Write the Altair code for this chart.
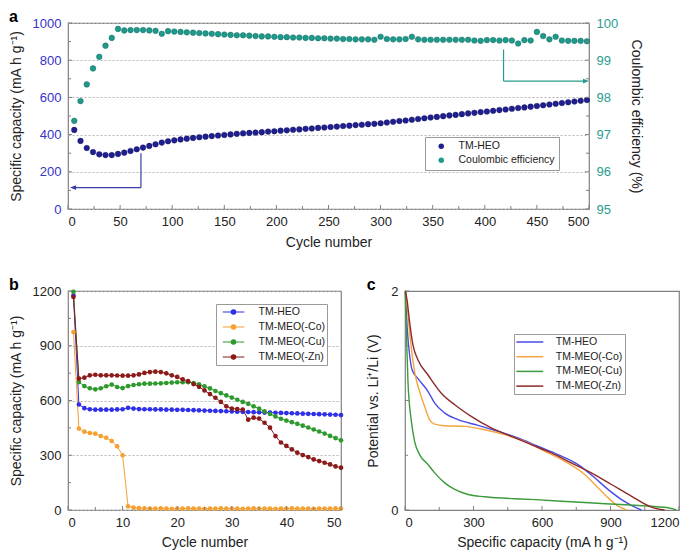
import altair as alt
import pandas as pd

FONT = "Liberation Sans"
FRAME = "#808080"
TXT = "#222222"

# ---------------- panel a data ----------------
a_cycles = list(range(6, 499, 6))
a_capacity = [425, 366, 328, 306, 294, 290, 290, 296, 303, 312,
              321, 330, 339, 348, 357, 364, 369, 374, 378, 382,
              386, 389, 392, 395, 398, 401, 404, 407, 409, 411,
              413, 416, 418, 421, 423, 426, 428, 431, 433, 436,
              438, 441, 443, 446, 448, 451, 453, 456, 458, 461,
              465, 469, 473, 476, 480, 484, 488, 492, 495, 499,
              503, 506, 510, 514, 517, 521, 524, 528, 532, 535,
              539, 543, 546, 550, 554, 558, 562, 566, 570, 574,
              578, 582, 586]
a_ce = [97.37, 97.90, 98.35, 98.78, 99.09, 99.39, 99.60, 99.84, 99.80, 99.81,
        99.81, 99.81, 99.80, 99.79, 99.71, 99.78, 99.77, 99.76, 99.75, 99.74,
        99.73, 99.72, 99.71, 99.70, 99.69, 99.68, 99.67, 99.67, 99.66, 99.65,
        99.64, 99.64, 99.63, 99.62, 99.62, 99.61, 99.61, 99.60, 99.60, 99.59,
        99.59, 99.58, 99.58, 99.57, 99.57, 99.56, 99.56, 99.56, 99.55, 99.63,
        99.57, 99.56, 99.56, 99.57, 99.63, 99.56, 99.55, 99.55, 99.55, 99.55,
        99.55, 99.55, 99.55, 99.55, 99.53, 99.52, 99.54, 99.54, 99.53, 99.54,
        99.53, 99.45, 99.54, 99.53, 99.76, 99.65, 99.56, 99.63, 99.53, 99.52,
        99.52, 99.52, 99.51]
a_series = ["TM-HEO", "Coulombic efficiency"]
a_colors = ["#1f1f8f", "#1e9a8c"]

# arrows (data coordinates)
arrow_cap_x = [70, 70]
arrow_cap_y = [300, 115]
arrow_cap_x2 = [70, 4]
arrow_cap_y2 = [115, 115]
arrow_cap_tip = (2, 115)
arrow_ce_x = [418, 418]
arrow_ce_y = [99.29, 98.44]
arrow_ce_x2 = [418, 495]
arrow_ce_y2 = [98.44, 98.44]
arrow_ce_tip = (500, 98.44)

# ---------------- panel b data ----------------
b_cycles = list(range(1, 51))
b_series = ["TM-HEO", "TM-MEO(-Co)", "TM-MEO(-Cu)", "TM-MEO(-Zn)"]
b_colors = ["#2f2fe8", "#f5a030", "#2e9a2e", "#8b1a1a"]
b_heo = [1175, 578, 558, 552, 550, 550, 550, 550, 551, 552,
         560, 556, 553, 552, 552, 551, 551, 550, 550, 549,
         549, 548, 547, 546, 545, 544, 543, 542, 541, 540,
         539, 538, 537, 536, 535, 534, 534, 533, 532, 531,
         530, 529, 528, 527, 526, 525, 524, 523, 522, 520]
b_co = [975, 446, 429, 422, 418, 405, 396, 378, 349, 300,
        20, 13, 10, 9, 8, 8, 9, 8, 7, 8,
        8, 9, 8, 8, 7, 8, 8, 9, 8, 8,
        8, 7, 8, 9, 8, 8, 8, 7, 8, 8,
        9, 8, 8, 8, 7, 8, 8, 8, 9, 8]
b_cu = [1196, 701, 679, 667, 661, 667, 678, 687, 674, 668,
        679, 685, 689, 692, 692, 693, 694, 696, 698, 700,
        700, 700, 695, 688, 678, 666, 652, 640, 628, 616,
        604, 592, 582, 568, 555, 540, 526, 513, 500, 490,
        481, 472, 462, 452, 441, 430, 419, 406, 394, 382]
b_zn = [1167, 720, 725, 738, 741, 738, 738, 738, 737, 736,
        736, 738, 743, 751, 756, 758, 756, 749, 738, 729,
        716, 706, 690, 675, 655, 635, 615, 592, 568, 556,
        553, 550, 495, 506, 501, 478, 451, 405, 370, 351,
        332, 314, 301, 290, 277, 268, 259, 250, 239, 232]

# ---------------- panel c data ----------------
c_series = ["TM-HEO ", "TM-MEO(-Co) ", "TM-MEO(-Cu) ", "TM-MEO(-Zn) "]
c_heo_cap = [2, 10, 20, 31, 57, 101, 130, 174, 232, 320, 407, 495, 582, 670, 758, 831, 889, 947, 991, 1035]
c_heo_v = [2.0, 1.65, 1.42, 1.28, 1.20, 1.082, 0.976, 0.885, 0.825, 0.773, 0.718, 0.658, 0.582, 0.506, 0.415, 0.294, 0.188, 0.097, 0.043, 0.0]
c_co_cap = [3, 10, 20, 42, 64, 86, 108, 130, 174, 261, 349, 436, 524, 612, 699, 787, 845, 889, 933, 970]
c_co_v = [2.0, 1.85, 1.627, 1.264, 1.082, 0.945, 0.824, 0.785, 0.770, 0.764, 0.733, 0.688, 0.627, 0.536, 0.445, 0.324, 0.203, 0.112, 0.036, 0.0]
c_cu_cap = [1, 3, 6, 13, 28, 42, 64, 101, 130, 174, 218, 276, 349, 553, 845, 1064, 1166, 1188]
c_cu_v = [2.0, 1.85, 1.627, 1.173, 0.809, 0.627, 0.506, 0.415, 0.339, 0.248, 0.188, 0.142, 0.121, 0.097, 0.061, 0.036, 0.015, 0.0]
c_zn_cap = [2, 10, 20, 35, 57, 101, 159, 218, 290, 378, 466, 553, 641, 728, 816, 904, 991, 1079, 1137]
c_zn_v = [2.0, 1.9, 1.718, 1.506, 1.370, 1.233, 1.067, 0.961, 0.855, 0.749, 0.673, 0.597, 0.521, 0.430, 0.339, 0.233, 0.127, 0.027, 0.0]
c_colors = ["#4a4ae8", "#f5a540", "#3b9b3b", "#8e2a2a"]

# ---------------- sizes ----------------
W_A, H_A = 521, 186
W_B, H_B = 273, 219
W_C, H_C = 274, 219


def vticks(field, vals, X, H, L):
    return alt.Chart(pd.DataFrame({field: vals})).mark_rule(color=FRAME, strokeWidth=1).encode(
        x=X, y=alt.value(H), y2=alt.value(H - L))


def lticks(field, vals, Y, L):
    return alt.Chart(pd.DataFrame({field: vals})).mark_rule(color=FRAME, strokeWidth=1).encode(
        y=Y, x=alt.value(0), x2=alt.value(L))


def rticks(field, vals, Y, W, L):
    return alt.Chart(pd.DataFrame({field: vals})).mark_rule(color=FRAME, strokeWidth=1).encode(
        y=Y, x=alt.value(W - L), x2=alt.value(W))


def ptitle(t):
    return alt.TitleParams(t, anchor="start", frame="bounds", fontSize=16, fontWeight="bold",
                           font=FONT, color="#000", offset=-8)


# ================= panel a =================
XA = alt.X("cycle:Q", scale=alt.Scale(domain=[0, 500], nice=False),
           axis=alt.Axis(values=list(range(0, 501, 50)), title="Cycle number",
                         labelPadding=6, titlePadding=7, grid=False))
YA = alt.Y("value:Q", scale=alt.Scale(domain=[0, 1000], nice=False),
           axis=alt.Axis(values=list(range(0, 1001, 200)), format="d", title="Specific capacity (mA h g⁻¹)",
                         labelColor="#3434c8", grid=True, gridDash=[2, 2], gridColor="#b5b5b5",
                         labelPadding=7, titlePadding=9))
YR = alt.Y("value:Q", scale=alt.Scale(domain=[95, 100], nice=False),
           axis=alt.Axis(values=[95, 96, 97, 98, 99, 100], format="d", orient="right",
                         title="Coulombic efficiency (%)",
                         labelColor="#2a9d90", grid=False, labelPadding=7, titlePadding=11))
COLA = alt.Color("aseries:N", scale=alt.Scale(domain=a_series, range=a_colors),
                 legend=alt.Legend(title=None, orient="none", legendX=357, legendY=114,
                                   symbolType="circle", symbolSize=30, symbolStrokeWidth=0,
                                   symbolOffset=7, labelOffset=12, padding=4, rowPadding=3,
                                   labelFontSize=10.5, labelFont=FONT, labelColor=TXT,
                                   strokeColor="#9a9a9a", fillColor="white",
                                   labelExpr="datum.label + '\u00a0\u00a0\u00a0\u00a0\u00a0\u00a0\u00a0\u00a0'"))

cap_df = pd.DataFrame({"cycle": a_cycles, "value": a_capacity, "aseries": a_series[0]})
ce_df = pd.DataFrame({"cycle": a_cycles, "value": a_ce, "aseries": a_series[1]})

cap_pts = alt.Chart(cap_df).mark_point(filled=True, size=32, opacity=1, stroke="#0c0c55", strokeWidth=0.4).encode(
    x=XA, y=YA, color=COLA)
ce_pts = alt.Chart(ce_df).mark_point(filled=True, size=32, opacity=1, stroke="#0d5a52", strokeWidth=0.4).encode(
    x=XA, y=YR, color=COLA)

arr_cap = alt.Chart(pd.DataFrame({"cycle": arrow_cap_x, "value": arrow_cap_y,
                                  "cycle2": arrow_cap_x2, "value2": arrow_cap_y2})).mark_rule(
    color="#3a3aa8", strokeWidth=1.2).encode(x=XA, y=YA, x2="cycle2:Q", y2="value2:Q")
arr_cap_head = alt.Chart(pd.DataFrame({"cycle": [arrow_cap_tip[0]], "value": [arrow_cap_tip[1]]})).mark_point(
    shape="M0,0L2,-0.8L2,0.8Z", filled=True, size=36, opacity=1, color="#3a3aa8").encode(x=XA, y=YA)
arr_ce = alt.Chart(pd.DataFrame({"cycle": arrow_ce_x, "value": arrow_ce_y,
                                 "cycle2": arrow_ce_x2, "value2": arrow_ce_y2})).mark_rule(
    color="#2a9a8a", strokeWidth=1.2).encode(x=XA, y=YR, x2="cycle2:Q", y2="value2:Q")
arr_ce_head = alt.Chart(pd.DataFrame({"cycle": [arrow_ce_tip[0]], "value": [arrow_ce_tip[1]]})).mark_point(
    shape="M0,0L-2,-0.8L-2,0.8Z", filled=True, size=36, opacity=1, color="#2a9a8a").encode(x=XA, y=YR)

left_grp = alt.layer(
    cap_pts, arr_cap, arr_cap_head,
    vticks("cycle", list(range(0, 501, 50)), XA, H_A, 4),
    vticks("cycle", list(range(25, 500, 50)), XA, H_A, 3),
    lticks("value", list(range(0, 1001, 200)), YA, 4),
    lticks("value", list(range(100, 1000, 200)), YA, 3),
)
right_grp = alt.layer(
    ce_pts, arr_ce, arr_ce_head,
    rticks("value", [95, 96, 97, 98, 99, 100], YR, W_A, 4),
    rticks("value", [95.5, 96.5, 97.5, 98.5, 99.5], YR, W_A, 3),
)
panel_a = alt.layer(left_grp, right_grp).resolve_scale(y="independent").properties(
    width=W_A, height=H_A, title=ptitle("a"))

# ================= panel b =================
b_df = pd.concat([
    pd.DataFrame({"cycle": b_cycles, "cap": vals, "bseries": s})
    for s, vals in zip(b_series, [b_heo, b_co, b_cu, b_zn])
])
XB = alt.X("cycle:Q", scale=alt.Scale(domain=[0, 50], nice=False),
           axis=alt.Axis(values=list(range(0, 51, 10)), title="Cycle number",
                         labelPadding=6, titlePadding=6, grid=False))
YB = alt.Y("cap:Q", scale=alt.Scale(domain=[0, 1200], nice=False),
           axis=alt.Axis(values=list(range(0, 1201, 300)), format="d", title="Specific capacity (mA h g⁻¹)",
                         grid=True, gridDash=[2, 2], gridColor="#b5b5b5", labelPadding=7, titlePadding=9))
dot_path = ("M-2.16,0L2.16,0"
            "M0.45,0A0.45,0.45,0,1,1,-0.45,0A0.45,0.45,0,1,1,0.45,0"
            "M0.3,0A0.3,0.3,0,1,1,-0.3,0A0.3,0.3,0,1,1,0.3,0"
            "M0.15,0A0.15,0.15,0,1,1,-0.15,0A0.15,0.15,0,1,1,0.15,0")
b_leg = alt.Legend(title=None, orient="none", legendX=148, legendY=13,
                   symbolType=dot_path,
                   symbolSize=100, symbolStrokeWidth=1.1, symbolOffset=9.5, labelOffset=19,
                   padding=2, rowPadding=3, labelFontSize=10.5, labelFont=FONT, labelColor=TXT,
                   strokeColor="#9a9a9a", fillColor="white", labelExpr="datum.label + '  '")
b_lines = alt.Chart(b_df).mark_line(strokeWidth=1).encode(
    x=XB, y=YB, color=alt.Color("bseries:N", scale=alt.Scale(domain=b_series, range=b_colors), legend=b_leg),
    detail="bseries:N")
b_pts = alt.Chart(b_df).mark_point(filled=True, size=22, opacity=1).encode(
    x=XB, y=YB,
    fill=alt.Fill("bseries:N", scale=alt.Scale(domain=b_series, range=b_colors), legend=None))
panel_b = alt.layer(
    b_lines, b_pts,
    vticks("cycle", list(range(0, 51, 10)), XB, H_B, 4),
    vticks("cycle", list(range(5, 50, 10)), XB, H_B, 3),
    lticks("cap", list(range(0, 1201, 300)), YB, 4),
    lticks("cap", list(range(150, 1200, 300)), YB, 3),
).properties(width=W_B, height=H_B, title=ptitle("b"))

# ================= panel c =================
c_df = pd.concat([
    pd.DataFrame({"capc": cp, "volt": v, "cseries": s, "order": list(range(len(cp)))})
    for s, cp, v in zip(c_series, [c_heo_cap, c_co_cap, c_cu_cap, c_zn_cap],
                        [c_heo_v, c_co_v, c_cu_v, c_zn_v])
])
XC = alt.X("capc:Q", scale=alt.Scale(domain=[0, 1200], nice=False),
           axis=alt.Axis(values=list(range(0, 1201, 300)), format="d", title="Specific capacity (mA h g⁻¹)",
                         labelPadding=6, titlePadding=6, grid=False))
YC = alt.Y("volt:Q", scale=alt.Scale(domain=[0, 2], nice=False),
           axis=alt.Axis(values=[0, 1, 2], format="d", title="Potential vs. Li⁺/Li (V)",
                         grid=False, labelPadding=7, titlePadding=10))
c_leg = alt.Legend(title=None, orient="none", legendX=109, legendY=43,
                   symbolType="M-2.7,0L2.7,0", symbolSize=100, symbolStrokeWidth=1.5,
                   symbolOffset=7.8, labelOffset=20, padding=2, rowPadding=2.7,
                   labelFontSize=10.5, labelFont=FONT, labelColor=TXT,
                   strokeColor="#9a9a9a", fillColor="white", labelExpr="datum.label + '  '")
c_lines = alt.Chart(c_df).mark_line(strokeWidth=1.4, interpolate="monotone").encode(
    x=XC, y=YC, order="order:Q",
    color=alt.Color("cseries:N", scale=alt.Scale(domain=c_series, range=c_colors), legend=c_leg))
panel_c = alt.layer(
    c_lines,
    vticks("capc", list(range(0, 1201, 300)), XC, H_C, 4),
    vticks("capc", list(range(150, 1200, 300)), XC, H_C, 3),
    lticks("volt", [0, 1, 2], YC, 4),
    lticks("volt", [0.5, 1.5], YC, 3),
).properties(width=W_C, height=H_C, title=ptitle("c"))

row = alt.hconcat(panel_b, panel_c, spacing=22).resolve_scale(
    color="independent", fill="independent").resolve_legend(
    color="independent", fill="independent")
chart = alt.vconcat(panel_a, row, spacing=26).resolve_scale(
    color="independent", fill="independent").resolve_legend(
    color="independent", fill="independent").properties(
    padding={"left": 0, "top": 0, "right": 0, "bottom": 0}
).configure_view(stroke=FRAME, strokeWidth=1.2).configure_axis(
    labelFont=FONT, titleFont=FONT, labelFontSize=13, titleFontSize=14, titleFontWeight="normal",
    labelColor=TXT, titleColor=TXT, ticks=False, tickSize=0, domain=False
).configure_legend(labelBaseline="middle")

chart.save("out.html", embed_options={"renderer": "svg", "actions": False})
